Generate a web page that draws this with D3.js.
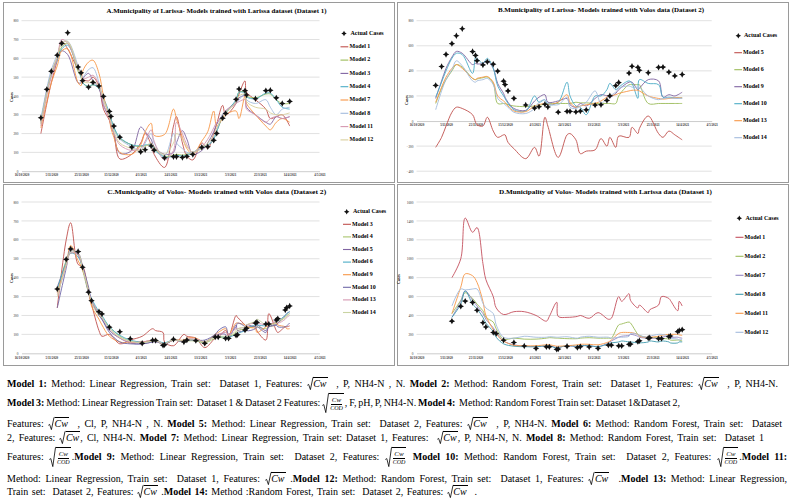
<!DOCTYPE html>
<html><head><meta charset="utf-8">
<script src="https://cdn.jsdelivr.net/npm/d3@7"></script>
<style>
body{margin:0;background:#fff;}
#wrap{position:relative;width:789px;height:498px;overflow:hidden;font-family:"Liberation Serif","Times New Roman",serif;background:#fff;}
svg#chart{position:absolute;left:0;top:0;}
.cap{position:absolute;left:7px;white-space:pre;font-family:"Liberation Serif","Times New Roman",serif;font-size:10px;line-height:12px;height:12px;color:#000;}
.sq{display:inline-block;line-height:12px;white-space:nowrap;}
.sq svg{vertical-align:-3px;overflow:visible;}
.ov{display:inline-block;line-height:11px;border-top:0.7px solid #000;font-style:italic;padding-right:1px;}
.fr{display:inline-flex;vertical-align:middle;margin:-5px 1px -5px 0;white-space:nowrap;}
.fr svg{overflow:visible;}
.fb{display:inline-flex;flex-direction:column;align-items:center;justify-content:center;border-top:0.7px solid #000;font-style:italic;font-size:7px;line-height:8px;padding:1px 1px 0;}
.fb .n{border-bottom:0.6px solid #000;padding:0 1px;}
.fb .d{font-size:6px;line-height:7px;}
</style></head>
<body><div id="wrap"><svg id="chart" width="789" height="498"></svg></div>
<script>
// ---------------- DATA ----------------
const larissaDates = ["2020-10-29","2020-11-02","2020-11-05","2020-11-09","2020-11-12","2020-11-16","2020-11-23","2020-11-25","2020-11-26","2020-11-30","2020-12-03","2020-12-07","2020-12-10","2020-12-14","2020-12-15","2020-12-17","2020-12-21","2020-12-29","2021-01-04","2021-01-07","2021-01-11","2021-01-13","2021-01-20","2021-01-26","2021-01-28","2021-02-01","2021-02-04","2021-02-08","2021-02-14","2021-02-18","2021-02-22","2021-02-24","2021-02-28","2021-03-02","2021-03-09","2021-03-11","2021-03-15","2021-03-16","2021-03-22","2021-03-29","2021-04-01","2021-04-05","2021-04-09","2021-04-14"];
const larissaActual = [284,435,531,617,680,736,554,523,481,447,472,453,398,318,291,240,181,128,103,114,134,112,71,77,77,73,79,89,127,130,164,201,282,307,382,437,428,405,385,428,430,390,360,371];

const volosDates = ["2020-11-09","2020-11-15","2020-11-18","2020-11-23","2020-11-26","2020-11-30","2020-12-02","2020-12-07","2020-12-09","2020-12-14","2020-12-21","2020-12-28","2021-01-05","2021-01-12","2021-01-14","2021-01-19","2021-01-20","2021-01-26","2021-02-02","2021-02-04","2021-02-10","2021-02-16","2021-02-23","2021-02-25","2021-03-02","2021-03-04","2021-03-09","2021-03-10","2021-03-15","2021-03-16","2021-03-22","2021-03-23","2021-03-29","2021-03-31","2021-04-05","2021-04-06","2021-04-11","2021-04-12","2021-04-14"];
const volosActual = [340,497,552,538,455,323,278,220,208,138,114,77,53,69,68,42,45,74,60,70,67,53,86,86,79,79,95,98,123,132,160,164,155,155,176,183,229,241,250];

// Panel A (Larissa, trained with Dataset 1)
const aModel1  = [200,360,470,590,690,650,540,520,490,480,500,450,330,270,240,200,65,90,150,200,140,90,20,240,290,150,80,60,150,120,200,250,350,300,360,410,480,420,380,330,280,290,300,240];
const aModel2  = [250,420,520,600,660,680,530,500,470,450,460,440,380,300,280,230,175,140,130,135,140,120,80,85,90,85,90,100,130,140,170,210,290,310,370,420,420,400,390,410,410,380,360,360];
const aModel3  = [260,430,520,600,640,620,470,470,490,520,480,440,350,280,250,200,95,110,235,210,170,130,90,100,150,215,170,90,110,150,210,250,300,320,370,390,400,340,300,260,250,290,280,290];
const aModel4  = [270,420,510,590,650,670,540,500,470,450,460,440,390,310,280,235,180,140,135,140,140,115,75,80,85,80,85,95,125,135,170,210,290,310,380,420,415,395,385,415,415,380,340,330];
const aModel7  = [230,370,470,560,640,650,470,455,530,580,590,520,400,280,230,180,100,90,140,210,255,190,195,330,280,180,120,90,160,210,320,240,280,300,320,280,400,360,300,240,220,260,280,260];
const aModel8  = [280,440,540,620,680,690,560,520,500,540,550,470,380,300,270,220,170,130,110,150,200,150,80,200,150,120,100,100,130,140,180,220,300,320,360,380,410,380,360,380,340,300,330,340];
const aModel11 = [240,400,500,600,700,680,550,520,490,500,510,460,360,280,250,200,140,110,120,160,220,160,60,110,260,200,140,100,130,170,230,260,290,320,360,370,380,330,300,260,280,290,280,290];
const aModel12 = [260,420,520,610,680,690,540,510,480,470,480,450,380,290,260,210,150,120,110,130,150,130,90,150,200,170,130,100,120,150,190,230,290,310,370,400,410,370,340,330,310,300,300,310];

// Panel B (Larissa, trained with Dataset 2)
const bModel5  = [-210,-130,-40,70,110,100,50,-10,-30,-40,30,-80,-130,-110,-110,-170,-220,-300,-210,-280,30,-40,-290,-110,-100,-150,-260,-240,-230,-140,-200,-130,-210,-120,-130,-50,-100,-60,40,-100,-130,-80,-110,-150];
const bModel6  = [140,260,330,400,450,430,340,330,335,345,350,300,140,140,140,130,120,115,120,125,135,140,140,140,140,150,145,145,140,140,140,140,140,200,290,290,290,290,140,140,140,140,140,140];
const bModel9  = [180,320,420,510,555,540,450,460,455,460,480,420,300,220,190,150,100,85,160,190,210,150,160,180,130,110,140,120,180,210,200,190,220,250,310,310,250,260,330,320,190,210,200,230];
const bModel10 = [190,310,400,500,540,530,380,510,500,460,500,420,280,200,180,140,90,80,200,150,170,130,150,310,200,120,110,50,200,200,250,300,250,270,320,300,180,330,300,290,190,190,185,185];
const bModel13 = [150,270,350,420,450,420,340,330,340,350,355,310,200,160,150,120,80,75,120,130,140,130,150,210,150,110,120,130,140,160,190,200,210,220,240,245,245,240,200,180,175,180,185,185];
const bModel14 = [90,240,330,410,480,440,320,310,320,330,340,290,180,140,130,110,70,60,100,150,170,140,130,190,110,100,120,150,240,140,180,200,230,260,280,270,270,270,200,170,180,185,180,180];

// Panel C (Volos, trained with Dataset 2)
const cModel3  = [240,600,690,470,460,320,260,120,90,100,50,70,90,130,120,110,60,40,100,90,80,30,80,85,120,90,200,190,150,140,140,120,70,210,120,110,140,140,145];
const cModel4  = [330,490,530,520,440,320,280,210,190,140,90,65,60,65,65,50,50,70,60,65,65,55,80,85,80,85,110,120,130,135,140,140,130,140,150,160,190,200,210];
const cModel5  = [350,480,540,530,460,320,270,200,180,120,80,55,50,60,60,50,45,70,65,70,70,60,95,100,100,80,150,120,120,150,140,150,120,140,150,160,200,210,220];
const cModel6  = [340,480,530,510,450,330,290,220,200,140,95,70,60,70,70,55,55,70,65,70,70,60,90,90,85,85,100,105,120,130,150,150,145,150,165,170,200,210,220];
const cModel9  = [320,470,570,490,440,340,250,180,150,90,60,55,60,70,75,40,45,70,70,80,80,60,100,110,130,100,160,160,150,140,130,110,140,150,160,150,140,130,130];
const cModel10 = [240,450,550,520,460,350,280,200,180,110,60,50,50,60,65,45,45,70,60,70,70,70,100,120,140,100,140,160,140,120,130,140,110,140,150,140,140,145,160];
const cModel13 = [310,460,530,520,450,330,280,210,190,130,80,60,60,70,70,50,50,70,65,75,75,60,90,100,110,100,130,130,140,150,160,160,150,150,170,160,180,190,200];
const cModel14 = [300,470,540,530,450,330,270,200,190,130,85,65,55,65,65,50,50,70,65,70,70,60,90,90,90,90,120,130,140,150,170,180,150,150,160,170,190,200,210];

// Panel D (Volos, trained with Dataset 1)
const dModel1  = [800,1000,1430,1280,1330,950,780,600,480,410,440,440,400,340,390,540,390,380,390,400,370,430,360,370,600,550,630,560,480,510,430,460,510,600,580,560,450,550,500];
const dModel2  = [420,560,640,580,520,450,380,330,260,150,160,150,150,160,165,160,160,155,155,160,165,160,160,160,300,310,330,320,200,190,160,160,170,160,150,140,140,140,130];
const dModel7  = [380,550,660,560,500,420,360,270,220,130,90,75,70,80,80,60,60,80,70,80,80,70,110,130,170,180,190,200,180,170,160,160,160,170,180,170,170,165,160];
const dModel8  = [380,520,660,520,470,380,320,230,170,100,75,70,70,80,80,55,60,80,75,80,80,70,100,110,120,130,120,120,110,110,120,130,120,130,120,110,110,120,120];
const dModel11 = [420,700,840,820,750,550,400,250,200,130,85,80,80,90,90,75,75,80,90,95,95,90,120,140,210,220,220,220,200,180,170,170,180,190,200,200,200,195,190];
const dModel12 = [500,680,670,680,680,530,480,420,300,170,160,180,170,170,175,170,170,175,160,170,180,170,170,160,170,170,180,210,200,190,170,180,200,200,180,160,150,140,150];

const panelTitles = [
  "A.Municipality of Larissa- Models trained with Larissa dataset (Dataset 1)",
  "B.Municipality of Larissa- Models trained with Volos data (Dataset 2)",
  "C.Municipality of Volos- Models trained with Volos data (Dataset 2)",
  "D.Municipality of Volos- Models trained with Larissa data (Dataset 1)"
];
const legendA = ["Model 1","Model 2","Model 3","Model 4","Model 7","Model 8","Model 11","Model 12"];
const legendB = ["Model 5","Model 6","Model 9","Model 10","Model 13","Model 14"];
const legendC = ["Model 3","Model 4","Model 5","Model 6","Model 9","Model 10","Model 13","Model 14"];
const legendD = ["Model 1","Model 2","Model 7","Model 8","Model 11","Model 12"];

const captionLines = [
  "**Model 1:** Method: Linear Regression, Train set:  Dataset 1, Features: {S}  , P, NH4-N , N. **Model 2:** Method: Random Forest, Train set:  Dataset 1, Features: {S}  , P, NH4-N.",
  "**Model 3:** Method: Linear Regression Train set:  Dataset 1 & Dataset 2 Features: {F}, F, pH, P, NH4-N. **Model 4:**  Method: Random Forest Train set: Dataset 1&Dataset 2,",
  "Features: {S}  , Cl, P, NH4-N , N. **Model 5:** Method: Linear Regression, Train set:  Dataset 2, Features: {S}  , P, NH4-N. **Model 6:** Method: Random Forest, Train set:  Dataset",
  "2, Features: {S}, Cl, NH4-N. **Model 7:** Method: Linear Regression, Train set: Dataset 1, Features:  {S}, P, NH4-N, N. **Model 8:** Method: Random Forest, Train set:  Dataset 1",
  "Features: {F}.**Model 9:** Method: Linear Regression, Train set:  Dataset 2, Features: {F} **Model 10:** Method: Random Forest, Train set:  Dataset 2, Features: {F}.**Model 11:**",
  "Method: Linear Regression, Train set:  Dataset 1, Features: {S} .**Model 12:** Method: Random Forest, Train set:  Dataset 1, Features: {S}  .**Model 13:** Method: Linear Regression,",
  "Train set:  Dataset 2, Features: {S} .**Model 14:** Method :Random Forest, Train set:  Dataset 2, Features: {S}  ."
];

// ---------------- DRAW ----------------
const parse = d3.utcParse("%Y-%m-%d");
const fmt = d3.utcFormat("%-d/%-m/%Y");
const xStart = parse("2020-10-16"), xEnd = parse("2021-05-04");
const xTickDates = d3.range(0, 201, 20).map(d => d3.utcDay.offset(xStart, d));
const svg = d3.select("#chart");
const FONT = "'Liberation Serif','Times New Roman',serif";
const markerPath = "M0,-3.2L1.1,-1.1L3.2,0L1.1,1.1L0,3.2L-1.1,1.1L-3.2,0L-1.1,-1.1Z";

const panels = [
  {box:[3,2,391,180], x0:21.5, x1:319.5, yTop:20.7, yBot:171.2, yDom:[0,800], yStep:100,
   title:panelTitles[0], tx:216.5, ty:11, tw:220, cx:12, cy:97,
   leg:{mx:344, l0:340.5, l1:348.3, t:349.5, y0:33.5, dy:13.3},
   dates:larissaDates, actual:larissaActual, names:legendA,
   series:[aModel1,aModel2,aModel3,aModel4,aModel7,aModel8,aModel11,aModel12],
   colors:["#C0504D","#9BBB59","#8064A2","#4BACC6","#F79646","#A3BBDD","#D597B0","#D8CF9C"]},
  {box:[397,2,391,180], x0:416.5, x1:711.7, yTop:20.7, yBot:171.2, yDom:[-400,800], yStep:200,
   title:panelTitles[1], tx:601, ty:10.7, tw:206, cx:407, cy:100,
   leg:{mx:738.3, l0:734.3, l1:742, t:743, y0:35.7, dy:17},
   dates:larissaDates, actual:larissaActual, names:legendB,
   series:[bModel5,bModel6,bModel9,bModel10,bModel13,bModel14],
   colors:["#C0504D","#9BBB59","#8064A2","#4BACC6","#F79646","#A3BBDD"]},
  {box:[3,184,391,181], x0:21.5, x1:319.5, yTop:202, yBot:353.3, yDom:[0,800], yStep:100,
   title:panelTitles[2], tx:216.7, ty:192.3, tw:219, cx:12, cy:278,
   leg:{mx:346.7, l0:343, l1:351, t:352, y0:211.7, dy:12.6},
   dates:volosDates, actual:volosActual, names:legendC,
   series:[cModel3,cModel4,cModel5,cModel6,cModel9,cModel10,cModel13,cModel14],
   colors:["#C0504D","#A9C46C","#8064A2","#4BACC6","#F79646","#6F68A8","#D597B0","#C9D4A2"]},
  {box:[397,184,391,181], x0:416.5, x1:711.7, yTop:202, yBot:353.3, yDom:[0,1600], yStep:200,
   title:panelTitles[3], tx:605.5, ty:192.7, tw:213, cx:399, cy:279,
   leg:{mx:739.3, l0:735.5, l1:743.5, t:744.5, y0:218.3, dy:19},
   dates:volosDates, actual:volosActual, names:legendD,
   series:[dModel1,dModel2,dModel7,dModel8,dModel11,dModel12],
   colors:["#C4505E","#9BBB59","#9486C2","#3E9AAE","#F79646","#A3BBDD"]}
];

panels.forEach(p => {
  const g = svg.append("g");
  g.append("rect").attr("x",p.box[0]+0.5).attr("y",p.box[1]+0.5).attr("width",p.box[2]).attr("height",p.box[3])
    .attr("fill","#fff").attr("stroke","#9a9a9a").attr("stroke-width",1);
  const x = d3.scaleUtc().domain([xStart,xEnd]).range([p.x0,p.x1]);
  const y = d3.scaleLinear().domain(p.yDom).range([p.yBot,p.yTop]);
  const yTicks = d3.range(p.yDom[0], p.yDom[1]+1, p.yStep);
  g.selectAll(null).data(yTicks.filter(v=>v!==0)).join("line")
    .attr("x1",p.x0).attr("x2",p.x1).attr("y1",d=>y(d)).attr("y2",d=>y(d))
    .attr("stroke","#d9d9d9").attr("stroke-width",0.8);
  const ya = g.append("g").attr("transform",`translate(${p.x0},0)`)
    .call(d3.axisLeft(y).tickValues(yTicks).tickSize(0).tickPadding(3).tickFormat(d3.format("d")));
  ya.select(".domain").remove();
  ya.selectAll("text").attr("font-size",3.4).attr("font-family",FONT).attr("fill","#333");
  const xa = g.append("g").attr("transform",`translate(0,${y(0)})`)
    .call(d3.axisBottom(x).tickValues(xTickDates).tickFormat(fmt).tickSize(0).tickPadding(3));
  xa.select(".domain").attr("stroke","#bfbfbf").attr("stroke-width",0.8);
  xa.selectAll("text").attr("font-size",3.2).attr("font-family",FONT).attr("fill","#333").attr("font-weight","bold");
  g.append("text").attr("x",p.tx).attr("y",p.ty).attr("text-anchor","middle").attr("dominant-baseline","middle")
    .attr("font-family",FONT).attr("font-weight","bold").attr("font-size",6.6)
    .attr("textLength",p.tw).attr("lengthAdjust","spacingAndGlyphs").text(p.title);
  g.append("text").attr("transform",`translate(${p.cx},${p.cy}) rotate(-90)`).attr("text-anchor","middle")
    .attr("dominant-baseline","middle").attr("font-family",FONT).attr("font-weight","bold").attr("font-size",4)
    .text("Cases");
  const dts = p.dates.map(parse);
  const line = d3.line().x(d=>x(d[0])).y(d=>y(d[1])).curve(d3.curveCatmullRom.alpha(0.5));
  p.series.forEach((s,i) => {
    g.append("path").attr("d", line(s.map((v,j)=>[dts[j],v])))
      .attr("fill","none").attr("stroke",p.colors[i]).attr("stroke-width",0.9).attr("stroke-linejoin","round");
  });
  g.selectAll(null).data(p.actual.map((v,j)=>[dts[j],v])).join("path")
    .attr("d",markerPath).attr("transform",d=>`translate(${x(d[0])},${y(d[1])})`).attr("fill","#111");
  const L = p.leg;
  g.append("path").attr("d",markerPath).attr("transform",`translate(${L.mx},${L.y0}) scale(0.85)`).attr("fill","#111");
  g.append("text").attr("x",L.t+1).attr("y",L.y0).attr("dominant-baseline","middle").attr("font-family",FONT)
    .attr("font-weight","bold").attr("font-size",6).text("Actual Cases");
  p.names.forEach((n,i) => {
    const yy = L.y0 + L.dy*(i+1);
    g.append("line").attr("x1",L.l0).attr("x2",L.l1).attr("y1",yy).attr("y2",yy).attr("stroke",p.colors[i]).attr("stroke-width",1.1);
    g.append("text").attr("x",L.t).attr("y",yy).attr("dominant-baseline","middle").attr("font-family",FONT)
      .attr("font-weight","bold").attr("font-size",6).text(n);
  });
});

// ---------------- CAPTION ----------------
const capPos = [[383,778],[403,680],[423,782],[437,764],[457,787],[478,787],[491,477]];
const wrap = d3.select("#wrap");
captionLines.forEach((line,i) => {
  const div = wrap.append("div").attr("class","cap").style("top",(capPos[i][0]-6.5)+"px");
  const inner = div.append("span").attr("class","inner");
  line.split(/(\*\*[^*]+\*\*|\{S\}|\{F\})/).forEach(tok => {
    if (!tok) return;
    if (tok.startsWith("**")) inner.append("b").text(tok.slice(2,-2));
    else if (tok === "{S}") {
      const s = inner.append("span").attr("class","sq");
      s.append("svg").attr("width",6.5).attr("height",13)
        .append("path").attr("d","M0.3,8.3L1.6,7.4L3.4,12.6L6,0.4L6.6,0.4").attr("fill","none").attr("stroke","#000").attr("stroke-width",0.8);
      s.append("span").attr("class","ov").text("Cw");
    } else if (tok === "{F}") {
      const f = inner.append("span").attr("class","fr");
      f.append("svg").attr("width",7).attr("height",20)
        .append("path").attr("d","M0.3,12.5L1.8,11.6L3.8,19.6L6.5,0.4L7.2,0.4").attr("fill","none").attr("stroke","#000").attr("stroke-width",0.8);
      const fb = f.append("span").attr("class","fb");
      fb.append("span").attr("class","n").text("Cw");
      fb.append("span").attr("class","d").text("COD");
    } else inner.append("span").text(tok);
  });
  const w = inner.node().getBoundingClientRect().width;
  const spaces = (line.replace(/\{S\}|\{F\}/g,"").match(/ /g) || []).length;
  const target = capPos[i][1] - 7;
  let ws = (target - w)/spaces;
  if (ws < -0.8) { // too wide: tighten letters slightly instead of collapsing words
    const chars = line.replace(/\*\*|\{S\}|\{F\}/g,"").length;
    const ls = Math.max(-0.5, (target - w + 0.8*spaces)/chars);
    inner.style("letter-spacing", ls + "px");
    const w2 = inner.node().getBoundingClientRect().width;
    ws = (target - w2)/spaces;
  }
  inner.style("word-spacing", ws + "px");
});
</script>
</body></html>
